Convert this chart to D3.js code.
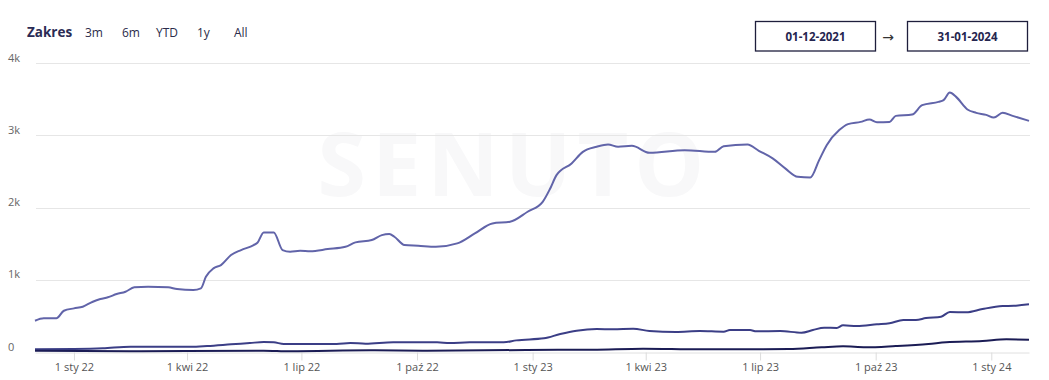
<!DOCTYPE html>
<html><head><meta charset="utf-8">
<script src="https://cdn.jsdelivr.net/npm/d3@7"></script>
<style>
body{margin:0;background:#fff;}
svg{display:block;font-family:"Open Sans",sans-serif;}
</style></head>
<body><svg id="c" width="1049" height="380"></svg>
<script>
// ---- data ----
const rangeButtons = ["3m","6m","YTD","1y","All"];
const startLabel = "01-12-2021", endLabel = "31-01-2024";
const yTicks = [0,1000,2000,3000,4000];
const yTickLabels = ["0","1k","2k","3k","4k"];
const xTickDates = ["2022-01-01","2022-04-01","2022-07-01","2022-10-01","2023-01-01","2023-04-01","2023-07-01","2023-10-01","2024-01-01"];
const xTickLabels = ["1 sty 22","1 kwi 22","1 lip 22","1 paź 22","1 sty 23","1 kwi 23","1 lip 23","1 paź 23","1 sty 24"];

const s1Dates = ["2021-12-01","2021-12-08","2021-12-18","2021-12-24","2022-01-01","2022-01-08","2022-01-16","2022-01-22","2022-01-28","2022-02-04","2022-02-11","2022-02-18","2022-03-01","2022-03-17","2022-03-24","2022-04-06","2022-04-12","2022-04-16","2022-04-22","2022-04-28","2022-05-06","2022-05-14","2022-05-24","2022-05-27","2022-06-01","2022-06-09","2022-06-16","2022-06-22","2022-06-30","2022-07-08","2022-07-22","2022-08-05","2022-08-13","2022-08-26","2022-09-03","2022-09-09","2022-09-13","2022-09-21","2022-10-02","2022-10-16","2022-11-02","2022-11-16","2022-11-30","2022-12-14","2022-12-28","2023-01-09","2023-01-15","2023-01-20","2023-02-01","2023-02-10","2023-02-21","2023-03-02","2023-03-10","2023-03-21","2023-04-04","2023-05-02","2023-05-26","2023-06-02","2023-06-21","2023-06-30","2023-07-11","2023-07-21","2023-07-31","2023-08-10","2023-08-17","2023-08-23","2023-09-02","2023-09-09","2023-09-19","2023-09-26","2023-10-02","2023-10-12","2023-10-17","2023-10-30","2023-11-07","2023-11-20","2023-11-24","2023-11-29","2023-12-04","2023-12-13","2023-12-20","2023-12-28","2024-01-03","2024-01-10","2024-01-18","2024-01-31"];
const s1Values = [433,466,466,571,604,627,696,733,757,802,834,895,904,895,871,858,880,1041,1158,1203,1342,1411,1480,1512,1655,1655,1411,1387,1400,1395,1424,1456,1517,1549,1618,1632,1595,1480,1470,1456,1503,1641,1780,1802,1941,2079,2264,2448,2610,2770,2840,2872,2840,2853,2757,2794,2770,2849,2872,2785,2679,2541,2425,2416,2656,2863,3071,3154,3185,3218,3181,3185,3268,3287,3416,3462,3485,3591,3531,3357,3310,3282,3245,3310,3268,3199];

const s2Dates = ["2021-12-01","2022-01-01","2022-01-24","2022-02-15","2022-04-04","2022-04-17","2022-05-06","2022-05-21","2022-06-01","2022-06-09","2022-06-17","2022-07-11","2022-07-29","2022-08-09","2022-08-21","2022-09-12","2022-10-17","2022-10-27","2022-11-12","2022-12-09","2022-12-19","2023-01-10","2023-01-23","2023-02-05","2023-02-21","2023-03-06","2023-03-22","2023-04-04","2023-04-25","2023-05-14","2023-06-02","2023-06-07","2023-06-23","2023-06-28","2023-07-17","2023-08-03","2023-08-12","2023-08-21","2023-08-31","2023-09-05","2023-09-16","2023-10-02","2023-10-12","2023-10-23","2023-11-02","2023-11-10","2023-11-22","2023-11-29","2023-12-12","2023-12-25","2024-01-10","2024-01-19","2024-01-31"];
const s2Values = [37,41,51,73,73,83,106,124,138,134,111,111,111,124,115,134,134,124,134,134,161,189,249,295,318,314,323,290,277,290,281,304,304,286,290,267,304,336,332,369,360,383,397,443,443,470,488,553,549,595,636,640,660];

const s3Dates = ["2021-12-01","2022-02-15","2022-06-01","2022-06-22","2022-08-25","2022-10-09","2022-12-27","2023-02-18","2023-03-30","2023-05-14","2023-07-24","2023-08-19","2023-09-05","2023-09-23","2023-10-17","2023-11-12","2023-11-26","2023-12-25","2024-01-13","2024-01-31"];
const s3Values = [18,10,18,10,23,18,28,32,46,37,41,65,78,65,83,111,134,152,175,170];

const seriesColors = ["#6164a9","#3b3e86","#1b1c55"];

// ---- chart ----
const parse = d3.timeParse("%Y-%m-%d");
const svg = d3.select("#c");

const x = d3.scaleTime().domain([parse("2021-12-01"), parse("2024-01-31")]).range([35, 1029]);
const y = d3.scaleLinear().domain([0,4000]).range([352, 63]);

// watermark
svg.append("text").attr("x", 514).attr("y", 196).attr("text-anchor","middle")
  .attr("font-size", 88).attr("font-weight", 700).attr("letter-spacing", 6)
  .attr("fill", "#f8f8f9").text("SENUTO");

// header
svg.append("text").attr("x", 27).attr("y", 37).attr("font-size", 13.5).attr("font-weight", 700)
  .attr("fill", "#2b2b55").text("Zakres");
const btnX = [85, 122, 156, 197, 234];
svg.selectAll(".btn").data(rangeButtons).join("text").attr("class","btn")
  .attr("x", (d,i)=>btnX[i]).attr("y", 37).attr("font-size", 12).attr("fill", "#2b2b4a").text(d=>d);

// date boxes
[[755, startLabel],[907, endLabel]].forEach(([bx, t])=>{
  svg.append("rect").attr("x", bx+0.5).attr("y", 21.5).attr("width", 120).attr("height", 29.5)
    .attr("fill","#fff").attr("stroke","#1e1e3c").attr("stroke-width",1.3);
  svg.append("text").attr("x", bx+60.5).attr("y", 40.5).attr("text-anchor","middle")
    .attr("font-size", 11.5).attr("font-weight", 700).attr("fill","#25254f").text(t);
});
svg.append("text").attr("x", 888).attr("y", 41.5).attr("text-anchor","middle").attr("font-size", 14)
  .attr("font-family", "DejaVu Sans").attr("fill","#333").text("→");

// gridlines + y labels
svg.append("g").selectAll("line").data(yTicks.filter(d=>d>0)).join("line")
  .attr("x1", 36).attr("x2", 1030).attr("y1", d=>Math.round(y(d))+0.5).attr("y2", d=>Math.round(y(d))+0.5)
  .attr("stroke", "#e6e6e6").attr("stroke-width", 1);
svg.append("g").selectAll("text").data(yTicks).join("text")
  .attr("x", 8).attr("y", d=>y(d)-1.5).attr("font-size", 11).attr("fill", "#666")
  .text((d,i)=>yTickLabels[i]);

// x axis
const xAxis = d3.axisBottom(x).tickValues(xTickDates.map(parse))
  .tickFormat((d,i)=>xTickLabels[i]).tickSize(8).tickSizeOuter(0).tickPadding(3);
const gx = svg.append("g").attr("transform", `translate(0,${y(0)+0.5})`).call(xAxis);
gx.select(".domain").attr("stroke", "#e0e0e0");
gx.selectAll(".tick line").attr("stroke", "#dcdcdc");
gx.selectAll(".tick text").attr("font-size", 11).attr("fill", "#555").attr("font-family", "Open Sans");

// lines
const line = d3.line().x(d=>x(d[0])).y(d=>y(d[1])).curve(d3.curveMonotoneX);
const seriesData = [
  [s1Dates, s1Values],
  [s2Dates, s2Values],
  [s3Dates, s3Values]
];
seriesData.forEach(([ds, vs], i)=>{
  const pts = ds.map((d,j)=>[parse(d), vs[j]]);
  svg.append("path").datum(pts).attr("d", line).attr("fill","none")
    .attr("stroke", seriesColors[i]).attr("stroke-width", 2).attr("stroke-linejoin","round");
});
</script></body></html>
